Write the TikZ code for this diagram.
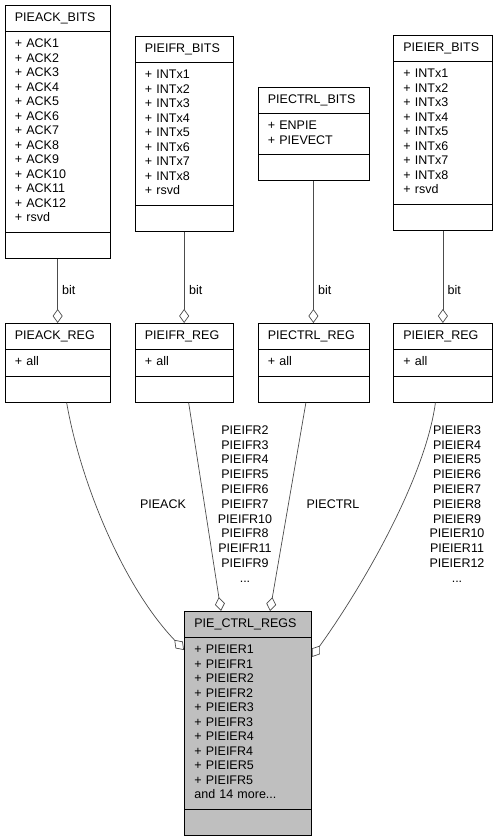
\documentclass[tikz,border=0pt]{standalone}
\usepackage{fontspec}
\setmainfont{Liberation Sans}
\usetikzlibrary{shapes.multipart, arrows.meta}

\begin{document}
\begin{tikzpicture}[
    x=1pt, y=-1pt,
    every node/.style={font=\fontsize{12.5}{14.5}\selectfont},
    clase/.style={rectangle split, rectangle split parts=3, draw=black, fill=white, line width=0.8pt,
        anchor=north west, inner xsep=10pt, inner ysep=5.5pt, align=left},
    etiqueta/.style={inner sep=0pt, align=center, font=\fontsize{12.5}{14.8}\selectfont},
    agregado/.style={draw=black!70, line width=0.7pt, -{Diamond[fill=white, length=14pt, width=10pt]}}
]
\useasboundingbox (0,0) rectangle (497,840);
% Estructuras de bits
\node[clase, text width=85.5pt] (ackbits) at (4.5,5) {\centering\strut PIEACK\_BITS
    \nodepart{two}\strut + ACK1\\+ ACK2\\+ ACK3\\+ ACK4\\+ ACK5\\+ ACK6\\+ ACK7\\+ ACK8\\+ ACK9\\+ ACK10\\+ ACK11\\+ ACK12\\+ rsvd\strut
    \nodepart{three}\strut};
\node[clase, text width=78.5pt] (ifrbits) at (134.5,36) {\centering\strut PIEIFR\_BITS
    \nodepart{two}\strut + INTx1\\+ INTx2\\+ INTx3\\+ INTx4\\+ INTx5\\+ INTx6\\+ INTx7\\+ INTx8\\+ rsvd\strut
    \nodepart{three}\strut};
\node[clase, text width=91pt] (ctrlbits) at (257.5,87) {\centering\strut PIECTRL\_BITS
    \nodepart{two}\strut + ENPIE\\+ PIEVECT\strut
    \nodepart{three}\strut};
\node[clase, text width=79pt] (ierbits) at (393,35) {\centering\strut PIEIER\_BITS
    \nodepart{two}\strut + INTx1\\+ INTx2\\+ INTx3\\+ INTx4\\+ INTx5\\+ INTx6\\+ INTx7\\+ INTx8\\+ rsvd\strut
    \nodepart{three}\strut};
% Registros
\node[clase, text width=85.5pt] (ackreg) at (4.5,323) {\centering\strut PIEACK\_REG \nodepart{two}\strut + all \nodepart{three}\strut};
\node[clase, text width=78.5pt] (ifrreg) at (134.5,323) {\centering\strut PIEIFR\_REG \nodepart{two}\strut + all \nodepart{three}\strut};
\node[clase, text width=91pt] (ctrlreg) at (257.5,323) {\centering\strut PIECTRL\_REG \nodepart{two}\strut + all \nodepart{three}\strut};
\node[clase, text width=79pt] (ierreg) at (393,323) {\centering\strut PIEIER\_REG \nodepart{two}\strut + all \nodepart{three}\strut};
% Estructura principal
\node[clase, fill=black!25, text width=107pt] (regs) at (184,611) {\centering\strut PIE\_CTRL\_REGS
    \nodepart{two}\strut + PIEIER1\\+ PIEIFR1\\+ PIEIER2\\+ PIEIFR2\\+ PIEIER3\\+ PIEIFR3\\+ PIEIER4\\+ PIEIFR4\\+ PIEIER5\\+ PIEIFR5\\and 14 more...\strut
    \nodepart{three}\strut};
% Aristas bit
\draw[agregado] (ackbits.south) -- (ackreg.north);
\draw[agregado] (ifrbits.south) -- (ifrreg.north);
\draw[agregado] (ctrlbits.south) -- (ctrlreg.north);
\draw[agregado] (ierbits.south) -- (ierreg.north);
\node[etiqueta, anchor=west] (bitack) at (62,290) {bit};
\node[etiqueta, anchor=west] (bitifr) at (189,290) {bit};
\node[etiqueta, anchor=west] (bitctrl) at (318,290) {bit};
\node[etiqueta, anchor=west] (bitier) at (447.5,290) {bit};
% Aristas hacia PIE_CTRL_REGS
\draw[agregado] ([xshift=9pt]ackreg.south) .. controls (80,480) and (122,585) .. ([yshift=-39pt]regs.north west);
\draw[agregado] ([xshift=4.5pt]ifrreg.south) -- ([xshift=37pt]regs.north west);
\draw[agregado] ([xshift=-7.5pt]ctrlreg.south) -- ([xshift=86pt]regs.north west);
\draw[agregado] ([xshift=-7.5pt]ierreg.south) .. controls (425,480) and (360,590) .. ([yshift=-46pt]regs.north east);
\node[etiqueta] (lblack) at (163,504) {PIEACK};
\node[etiqueta] (lblifr) at (245,504) {PIEIFR2\\PIEIFR3\\PIEIFR4\\PIEIFR5\\PIEIFR6\\PIEIFR7\\PIEIFR10\\PIEIFR8\\PIEIFR11\\PIEIFR9\\...};
\node[etiqueta] (lblctrl) at (333,504) {PIECTRL};
\node[etiqueta] (lblier) at (457,504) {PIEIER3\\PIEIER4\\PIEIER5\\PIEIER6\\PIEIER7\\PIEIER8\\PIEIER9\\PIEIER10\\PIEIER11\\PIEIER12\\...};
\end{tikzpicture}
\end{document}
